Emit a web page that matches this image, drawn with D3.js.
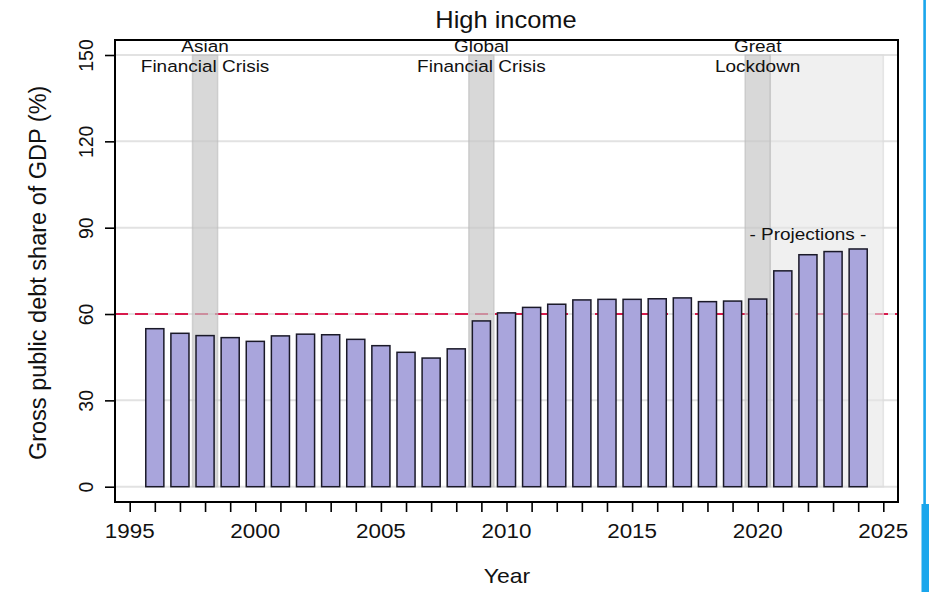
<!DOCTYPE html>
<html>
<head>
<meta charset="utf-8">
<script src="https://cdn.jsdelivr.net/npm/d3@7"></script>
<style>
  html, body { margin: 0; padding: 0; background: #fff; }
  svg { display: block; font-family: "Liberation Sans", Arial, Helvetica, sans-serif; }
</style>
</head>
<body>
<svg id="chart" width="929" height="592"></svg>
<script>
// Gross public debt, high income economies (% of GDP)
const years = [1996, 1997, 1998, 1999, 2000, 2001, 2002, 2003, 2004, 2005,
               2006, 2007, 2008, 2009, 2010, 2011, 2012, 2013, 2014, 2015,
               2016, 2017, 2018, 2019, 2020, 2021, 2022, 2023, 2024];
const debt  = [54.9, 53.3, 52.5, 51.8, 50.5, 52.4, 53.0, 52.8, 51.2, 49.0,
               46.7, 44.7, 47.9, 57.6, 60.4, 62.3, 63.4, 64.9, 65.1, 65.1,
               65.3, 65.6, 64.3, 64.5, 65.2, 75.0, 80.6, 81.7, 82.6];

// Crisis episodes (shaded one year wide) and their labels
const crisisYears  = [1998, 2009, 2020];
const crisisLabels = [["Asian", "Financial Crisis"], ["Global", "Financial Crisis"], ["Great", "Lockdown"]];

// Projection period
const projectionSpan  = [2020.5, 2025];
const projectionLabel = "- Projections -";
const projectionLabelYear = 2022;

// Reference threshold
const threshold = 60;

// Axis ticks
const yTicks = [0, 30, 60, 90, 120, 150];
const xMinorTicks = d3.range(1995, 2026, 1);
const xMajorTicks = [1995, 2000, 2005, 2010, 2015, 2020, 2025];

const titleText  = "High income";
const xAxisTitle = "Year";
const yAxisTitle = "Gross public debt share of GDP (%)";

const svg = d3.select("#chart");
const frame = { left: 115, right: 898, top: 40, bottom: 502 };

const x = d3.scaleLinear().domain([1995, 2025]).range([129.7, 883.3]);
const y = d3.scaleLinear().domain([0, 150]).range([486.7, 55]);
const step = x(1996) - x(1995);
const barW = step * 0.72;

// horizontally stretched text helper
function stretchedText(g, tx, ty, str, size, sx, anchor) {
  return g.append("text")
    .attr("transform", `translate(${tx},${ty}) scale(${sx},1)`)
    .attr("text-anchor", anchor || "middle")
    .attr("font-size", size)
    .attr("fill", "#111")
    .text(str);
}

// gridlines
svg.append("g").selectAll("line").data(yTicks).join("line")
  .attr("x1", frame.left).attr("x2", frame.right)
  .attr("y1", d => y(d)).attr("y2", d => y(d))
  .attr("stroke", "#e2e2e2").attr("stroke-width", 2);

// threshold line
svg.append("line")
  .attr("x1", frame.left).attr("x2", frame.right)
  .attr("y1", y(threshold)).attr("y2", y(threshold))
  .attr("stroke", "#d81a4c").attr("stroke-width", 2.2)
  .attr("stroke-dasharray", "13,7");

// projection shading
svg.append("rect")
  .attr("x", x(projectionSpan[0])).attr("width", x(projectionSpan[1]) - x(projectionSpan[0]))
  .attr("y", y(150)).attr("height", y(0) - y(150))
  .attr("fill", "#e6e6e6").attr("fill-opacity", 0.6)
  .attr("stroke", "#dcdcdc").attr("stroke-opacity", 0.7).attr("stroke-width", 1.5);

// crisis shading
svg.append("g").selectAll("rect").data(crisisYears).join("rect")
  .attr("x", d => x(d - 0.5)).attr("width", step)
  .attr("y", y(150)).attr("height", y(0) - y(150))
  .attr("fill", "#c6c6c6").attr("fill-opacity", 0.68)
  .attr("stroke", "#bdbdbd").attr("stroke-opacity", 0.6).attr("stroke-width", 1.5);

// bars
svg.append("g").selectAll("rect").data(years).join("rect")
  .attr("x", (d) => x(d) - barW / 2)
  .attr("width", barW)
  .attr("y", (d, i) => y(debt[i]))
  .attr("height", (d, i) => y(0) - y(debt[i]))
  .attr("fill", "#a9a5dc")
  .attr("stroke", "#1a1928").attr("stroke-width", 1.5);

// frame
svg.append("rect")
  .attr("x", frame.left).attr("y", frame.top)
  .attr("width", frame.right - frame.left).attr("height", frame.bottom - frame.top)
  .attr("fill", "none").attr("stroke", "#000").attr("stroke-width", 2);

// y axis
const yAxis = svg.append("g")
  .attr("transform", `translate(${frame.left},0)`)
  .call(d3.axisLeft(y).tickValues(yTicks).tickSize(10).tickFormat(d3.format("d")));
yAxis.select(".domain").remove();
yAxis.selectAll(".tick line").attr("stroke", "#000").attr("stroke-width", 1.6);
yAxis.selectAll(".tick text")
  .attr("transform", "rotate(-90)")
  .attr("x", 0).attr("y", -22).attr("dy", 0)
  .attr("text-anchor", "middle")
  .attr("font-size", 19.5)
  .attr("font-family", "Liberation Sans, Arial, sans-serif")
  .attr("fill", "#111");

// x axis
const xAxis = svg.append("g")
  .attr("transform", `translate(0,${frame.bottom})`)
  .call(d3.axisBottom(x).tickValues(xMinorTicks).tickSize(10).tickFormat(""));
xAxis.select(".domain").remove();
xAxis.selectAll(".tick line").attr("stroke", "#000").attr("stroke-width", 1.6);

const xLabels = svg.append("g");
xMajorTicks.forEach(t => stretchedText(xLabels, x(t), 538, String(t), 19.5, 1.15));

// crisis annotations
const ann = svg.append("g");
crisisYears.forEach((yr, i) => {
  stretchedText(ann, x(yr), 51.5, crisisLabels[i][0], 16.5, 1.15);
  stretchedText(ann, x(yr), 71.5, crisisLabels[i][1], 16.5, 1.15);
});
stretchedText(ann, x(projectionLabelYear), 240, projectionLabel, 16.5, 1.15);

// titles
stretchedText(svg, 506, 28, titleText, 24, 1.06);
stretchedText(svg, 507, 583, xAxisTitle, 20.5, 1.12);
svg.append("text")
  .attr("transform", `translate(45.5,${(y(0) + y(150)) / 2 + 2}) rotate(-90)`)
  .attr("text-anchor", "middle")
  .attr("font-size", 23.5)
  .attr("fill", "#111")
  .text(yAxisTitle);

// window edge accent
svg.append("rect").attr("x", 923.3).attr("y", 0).attr("width", 2.6).attr("height", 592).attr("fill", "#1aa6ec");
svg.append("rect").attr("x", 921.5).attr("y", 504).attr("width", 7.5).attr("height", 88).attr("fill", "#1aa6ec");
</script>
</body>
</html>
